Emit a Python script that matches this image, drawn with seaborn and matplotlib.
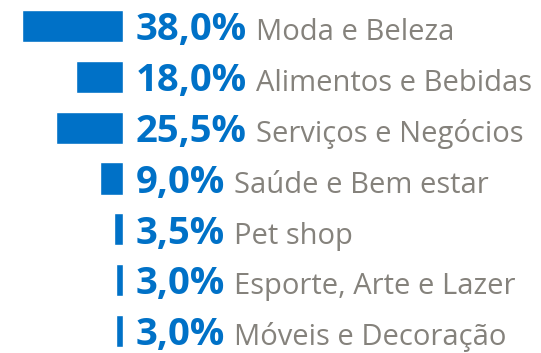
import matplotlib
matplotlib.use("Agg")
import matplotlib.pyplot as plt
import seaborn as sns
import pandas as pd

categories = [
    "Moda e Beleza",
    "Alimentos e Bebidas",
    "Serviços e Negócios",
    "Saúde e Bem estar",
    "Pet shop",
    "Esporte, Arte e Lazer",
    "Móveis e Decoração",
]
shares = [38.0, 18.0, 25.5, 9.0, 3.5, 3.0, 3.0]
share_labels = ["38,0%", "18,0%", "25,5%", "9,0%", "3,5%", "3,0%", "3,0%"]

BLUE = "#0071C7"
GRAY = "#85827C"

sns.set_theme(style="white")
plt.rcParams["font.family"] = ["Open Sans", "DejaVu Sans"]

df = pd.DataFrame({"categoria": categories, "share": shares})

W, H = 541, 353
fig = plt.figure(figsize=(W / 100, H / 100), dpi=100)
ax = fig.add_axes([0, 0, 1, 1])

sns.barplot(data=df, x="share", y="categoria", orient="h", color=BLUE,
            saturation=1, width=0.63, ax=ax)

# bars grow leftwards from a common baseline near the left third
px_per_unit = 2.66
zero_px = 123.5
ax.set_xlim(zero_px / px_per_unit, -(W - zero_px) / px_per_unit)
row_px = 50.83
first_px = 26.0
ax.set_ylim(len(categories) - 1 + (H - first_px - (len(categories) - 1) * row_px) / row_px,
            -first_px / row_px)
ax.axis("off")

label_x = -(136 - zero_px) / px_per_unit
base_off = 0.28
pct_texts = []
for i, lab in enumerate(share_labels):
    t = ax.text(label_x, i + base_off, lab, ha="left", va="baseline",
                fontsize=27.5, fontweight="bold", color=BLUE)
    pct_texts.append(t)

fig.canvas.draw()
renderer = fig.canvas.get_renderer()
inv = ax.transData.inverted()
for i, (t, cat) in enumerate(zip(pct_texts, categories)):
    bb = t.get_window_extent(renderer)
    x_data = inv.transform((bb.x1 + 9, 0))[0]
    ax.text(x_data, i + base_off, cat, ha="left", va="baseline",
            fontsize=21, color=GRAY)

fig.savefig("out.png", dpi=100)
